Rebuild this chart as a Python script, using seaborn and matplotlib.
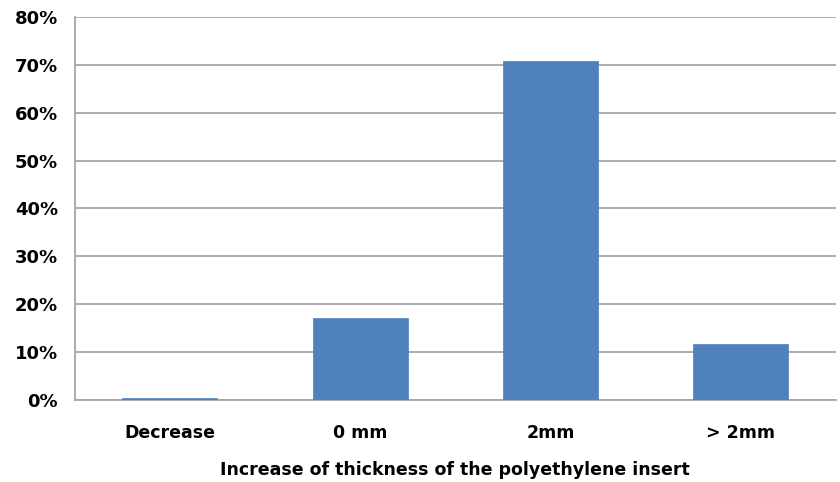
import numpy as np
import pandas as pd
import matplotlib.pyplot as plt
import seaborn as sns
from matplotlib.ticker import MultipleLocator, FixedLocator, PercentFormatter

sns.set_style("white")
plt.rcParams["font.family"] = ["DejaVu Sans"]
plt.rc("text", color="black")
plt.rc("axes", labelcolor="black")
plt.rc("xtick", labelcolor="black")
plt.rc("ytick", labelcolor="black")

# data
categories = ["Decrease", "0 mm", "2mm", "> 2mm"]
shares = [0.5, 17.1, 70.7, 11.8]

BAR_BLUE = "#4F81BD"
GRID_GREY = "#a6a6a6"

df = pd.DataFrame({"Change": categories, "Share": shares})

fig = plt.figure(figsize=(8.4, 4.82), dpi=100)
ax = fig.add_axes([0.089, 0.170, 0.906, 0.795])

sns.barplot(data=df, x="Change", y="Share", color=BAR_BLUE,
            width=0.5, saturation=1, edgecolor=BAR_BLUE, linewidth=0.5,
            ax=ax, zorder=3)

ax.set_ylim(0, 80)
ax.set_xlim(-0.5, len(categories) - 0.5)
ax.yaxis.set_major_locator(MultipleLocator(10))
ax.yaxis.set_major_formatter(PercentFormatter(decimals=0))
ax.grid(axis="y", color=GRID_GREY, linewidth=1.3, zorder=0)
ax.set_axisbelow(True)

for side in ["top", "right"]:
    ax.spines[side].set_visible(False)
for side in ["left", "bottom"]:
    ax.spines[side].set_color(GRID_GREY)
    ax.spines[side].set_linewidth(1.3)

# category separators on the x axis
ax.xaxis.set_minor_locator(FixedLocator(np.arange(-0.5, len(categories), 1.0)))
ax.tick_params(axis="x", which="major", length=0, pad=17, labelsize=12.5)
ax.tick_params(axis="x", which="minor", length=7, width=1.3, color=GRID_GREY)
ax.tick_params(axis="y", length=7, width=1.3, color=GRID_GREY, labelsize=13, pad=5)
for lab in ax.get_xticklabels() + ax.get_yticklabels():
    lab.set_fontweight("bold")

ax.set_xlabel("Increase of thickness of the polyethylene insert",
              fontsize=12.5, fontweight="bold", labelpad=14)
ax.set_ylabel("")

fig.savefig("out.png", dpi=100)
